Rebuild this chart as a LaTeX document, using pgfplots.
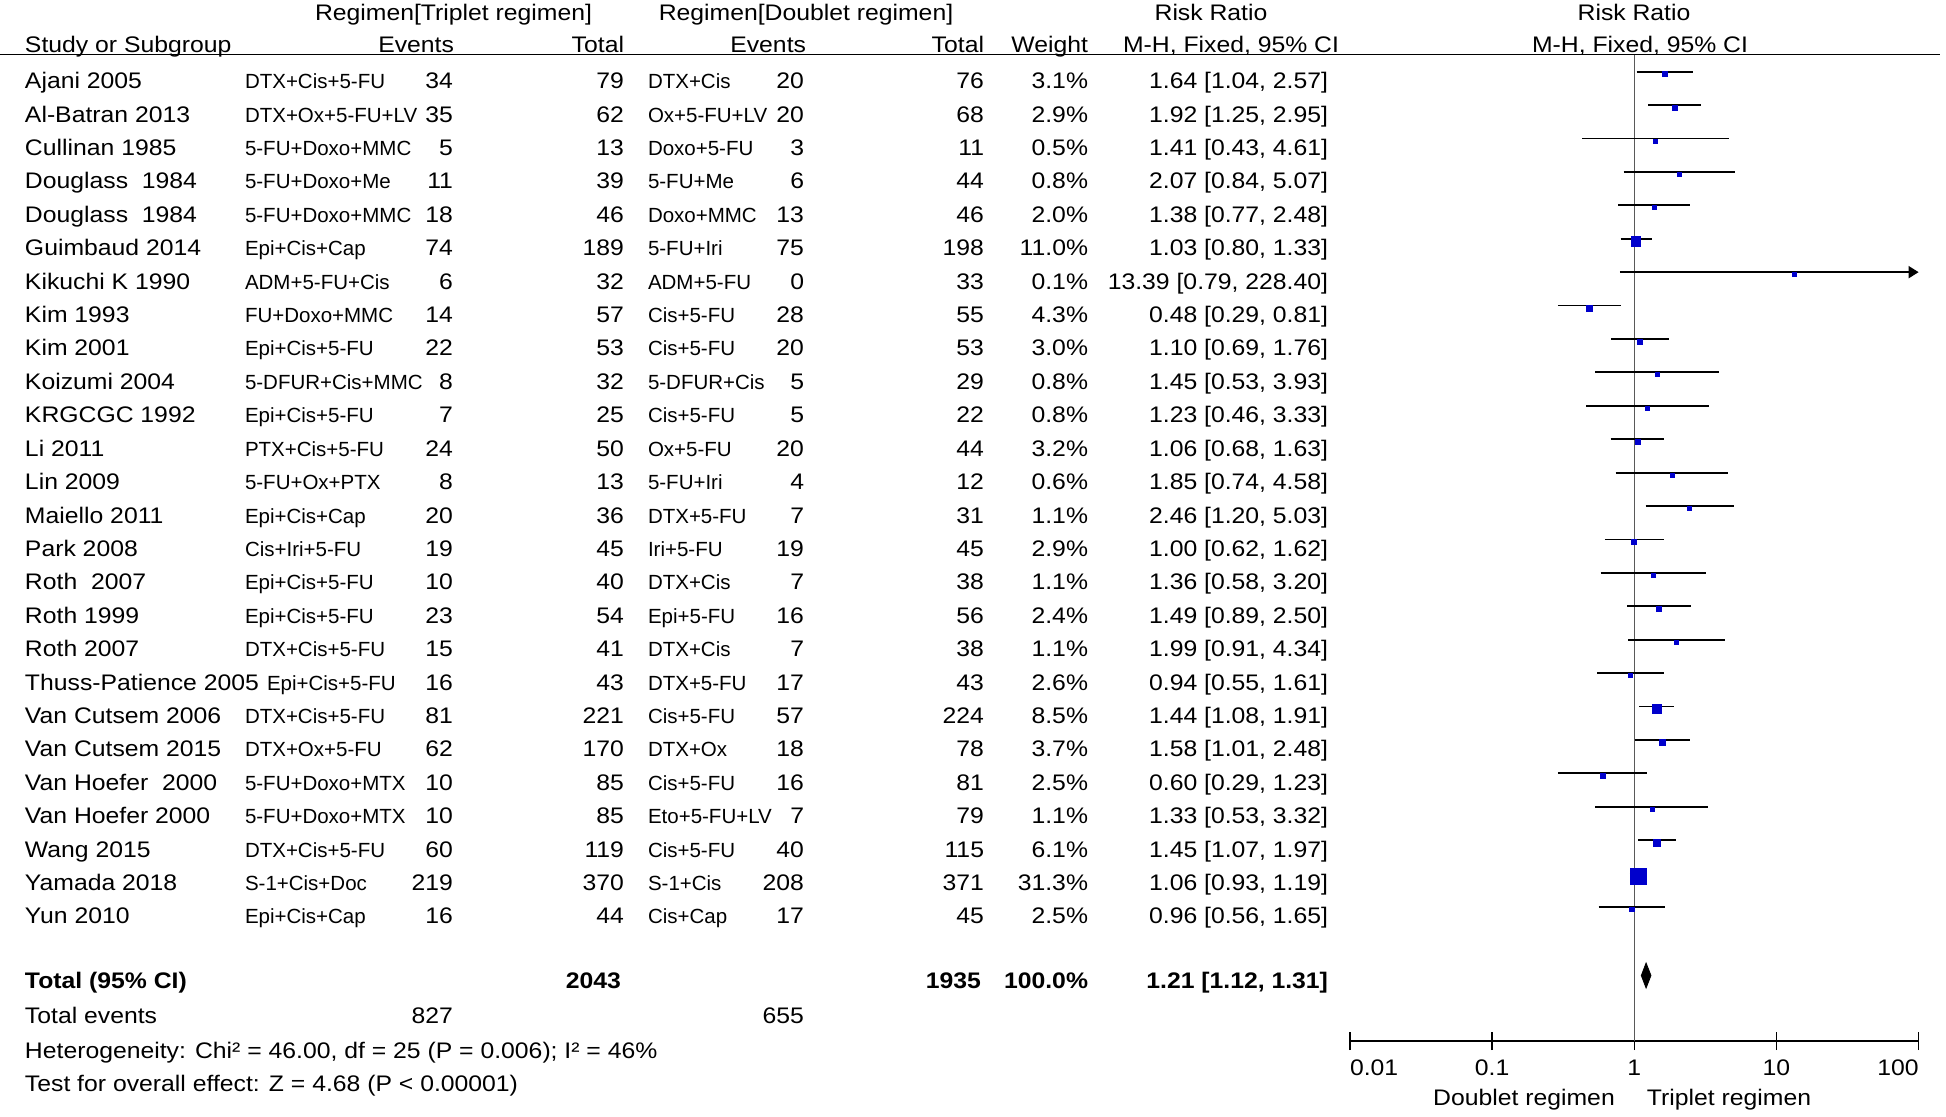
\documentclass[border=0pt]{standalone}
\usepackage{fontspec}
\setmainfont{Liberation Sans}[FakeStretch=1.1]
\newfontfamily\drugfont{Liberation Sans}
\usepackage{pgfplots}
\usepackage{pgfplotstable}
\pgfplotsset{compat=1.18}
\usetikzlibrary{arrows.meta}

\definecolor{mkblue}{rgb}{0,0,0.8}
\definecolor{refgray}{gray}{0.35}

\pgfplotsset{
  ci/.style={black, line width=0.9pt, forget plot},
  ciarr/.style={ci, -{Triangle[length=5pt, width=6pt]}},
}

% risk ratio, 95% CI and weight (%) per study, rows top to bottom
\pgfplotstableread{
i  rr    lo   hi     w
0  1.64  1.04 2.57   3.1
1  1.92  1.25 2.95   2.9
2  1.41  0.43 4.61   0.5
3  2.07  0.84 5.07   0.8
4  1.38  0.77 2.48   2.0
5  1.03  0.80 1.33   11.0
6  13.39 0.79 228.40 0.1
7  0.48  0.29 0.81   4.3
8  1.10  0.69 1.76   3.0
9  1.45  0.53 3.93   0.8
10 1.23  0.46 3.33   0.8
11 1.06  0.68 1.63   3.2
12 1.85  0.74 4.58   0.6
13 2.46  1.20 5.03   1.1
14 1.00  0.62 1.62   2.9
15 1.36  0.58 3.20   1.1
16 1.49  0.89 2.50   2.4
17 1.99  0.91 4.34   1.1
18 0.94  0.55 1.61   2.6
19 1.44  1.08 1.91   8.5
20 1.58  1.01 2.48   3.7
21 0.60  0.29 1.23   2.5
22 1.33  0.53 3.32   1.1
23 1.45  1.07 1.97   6.1
24 1.06  0.93 1.19   31.3
25 0.96  0.56 1.65   2.5
}\forest

\newcounter{row}
% name, drug1, events1, total1, drug2, events2, total2, weight, RR text
\newcommand\studyrow[9]{%
  \pgfmathsetmacro\yb{1027.3-33.41*\the\value{row}}%
  \node[anchor=base west] at (25,\yb) {#1};
  \node[anchor=base west] at (245,\yb) {\drugfont\fontsize{10.25}{12}\selectfont #2};
  \node[anchor=base east] at (453,\yb) {#3};
  \node[anchor=base east] at (624,\yb) {#4};
  \node[anchor=base west] at (648,\yb) {\drugfont\fontsize{10.25}{12}\selectfont #5};
  \node[anchor=base east] at (804,\yb) {#6};
  \node[anchor=base east] at (984,\yb) {#7};
  \node[anchor=base east] at (1088,\yb) {#8};
  \node[anchor=base east] at (1328,\yb) {#9};
  \stepcounter{row}}

\begin{document}
\fontsize{11.25}{13}\selectfont
\begin{tikzpicture}
\path[use as bounding box] (0,0) rectangle (973pt,558pt);

\begin{axis}[
  at={(675pt,37.5pt)}, anchor=south west,
  width=284.3pt, height=520.5pt, scale only axis,
  xmode=log, xmin=0.01, xmax=100, ymin=75, ymax=1116,
  axis x line=bottom, axis y line=none,
  axis line style={-, line width=0.8pt},
  xtick={0.01,0.1,1,10,100},
  xticklabels={\rlap{0.01},0.1,1,10,\llap{100}},
  xminorticks=false,
  tick align=center, major tick length=9pt,
  tick style={black, line width=0.8pt},
  xticklabel style={anchor=base, yshift=-12.8pt},
  clip=false,
]
\addplot[refgray, line width=0.8pt, forget plot] coordinates {(1,75) (1,1061.4)};

\pgfplotstablegetrowsof{\forest}
\pgfmathtruncatemacro\nrows{\pgfplotsretval-1}
\pgfplotsforeachungrouped \k in {0,...,\nrows}{%
  \pgfplotstablegetelem{\k}{lo}\of{\forest}\let\lo\pgfplotsretval
  \pgfplotstablegetelem{\k}{hi}\of{\forest}\let\hi\pgfplotsretval
  \pgfmathsetmacro\yy{1116-(80.7+33.41*\k-9)}
  \pgfmathtruncatemacro\isbig{\hi>100}
  \ifnum\isbig=1 \def\hh{100}\def\cist{ciarr}\else \let\hh\hi\def\cist{ci}\fi
  \edef\temp{\noexpand\addplot[\cist] coordinates {(\lo,\yy) (\hh,\yy)};}
  \temp
}

\addplot[only marks, mark=square*, scatter,
  scatter/use mapped color={draw=mkblue, fill=mkblue},
  visualization depends on={max(1.0,0.715*sqrt(\thisrow{w})) \as \msz},
  scatter/@pre marker code/.append style={/tikz/mark size=\msz}]
  table[x=rr, y expr={1116-(80.7+33.41*\thisrow{i}-6.5)}] {\forest};

% pooled estimate 1.21 [1.12, 1.31]
\addplot[black, fill=black] coordinates {(1.12,140.5) (1.21,153) (1.31,140.5) (1.21,128)} -- cycle;
\end{axis}

\begin{scope}[x=0.5pt, y=0.5pt, every node/.style={inner sep=0pt, outer sep=0pt}]
\draw[line width=0.9pt] (0,1061.4) -- (1940,1061.4);

\node[anchor=base] at (453.5,1095.6) {Regimen[Triplet regimen]};
\node[anchor=base] at (806,1095.6) {Regimen[Doublet regimen]};
\node[anchor=base] at (1211,1095.6) {Risk Ratio};
\node[anchor=base] at (1634,1095.6) {Risk Ratio};

\node[anchor=base west] at (25,1063.3) {Study or Subgroup};
\node[anchor=base east] at (454,1063.3) {Events};
\node[anchor=base east] at (624,1063.3) {Total};
\node[anchor=base east] at (806,1063.3) {Events};
\node[anchor=base east] at (984,1063.3) {Total};
\node[anchor=base east] at (1088,1063.3) {Weight};
\node[anchor=base] at (1231,1063.3) {M-H, Fixed, 95\% CI};
\node[anchor=base] at (1640,1063.3) {M-H, Fixed, 95\% CI};

\setcounter{row}{0}
\studyrow{Ajani 2005}{DTX+Cis+5-FU}{34}{79}{DTX+Cis}{20}{76}{3.1\%}{1.64 [1.04, 2.57]}
\studyrow{Al-Batran 2013}{DTX+Ox+5-FU+LV}{35}{62}{Ox+5-FU+LV}{20}{68}{2.9\%}{1.92 [1.25, 2.95]}
\studyrow{Cullinan 1985}{5-FU+Doxo+MMC}{5}{13}{Doxo+5-FU}{3}{11}{0.5\%}{1.41 [0.43, 4.61]}
\studyrow{Douglass~~1984}{5-FU+Doxo+Me}{11}{39}{5-FU+Me}{6}{44}{0.8\%}{2.07 [0.84, 5.07]}
\studyrow{Douglass~~1984}{5-FU+Doxo+MMC}{18}{46}{Doxo+MMC}{13}{46}{2.0\%}{1.38 [0.77, 2.48]}
\studyrow{Guimbaud 2014}{Epi+Cis+Cap}{74}{189}{5-FU+Iri}{75}{198}{11.0\%}{1.03 [0.80, 1.33]}
\studyrow{Kikuchi K 1990}{ADM+5-FU+Cis}{6}{32}{ADM+5-FU}{0}{33}{0.1\%}{13.39 [0.79, 228.40]}
\studyrow{Kim 1993}{FU+Doxo+MMC}{14}{57}{Cis+5-FU}{28}{55}{4.3\%}{0.48 [0.29, 0.81]}
\studyrow{Kim 2001}{Epi+Cis+5-FU}{22}{53}{Cis+5-FU}{20}{53}{3.0\%}{1.10 [0.69, 1.76]}
\studyrow{Koizumi 2004}{5-DFUR+Cis+MMC}{8}{32}{5-DFUR+Cis}{5}{29}{0.8\%}{1.45 [0.53, 3.93]}
\studyrow{KRGCGC 1992}{Epi+Cis+5-FU}{7}{25}{Cis+5-FU}{5}{22}{0.8\%}{1.23 [0.46, 3.33]}
\studyrow{Li 2011}{PTX+Cis+5-FU}{24}{50}{Ox+5-FU}{20}{44}{3.2\%}{1.06 [0.68, 1.63]}
\studyrow{Lin 2009}{5-FU+Ox+PTX}{8}{13}{5-FU+Iri}{4}{12}{0.6\%}{1.85 [0.74, 4.58]}
\studyrow{Maiello 2011}{Epi+Cis+Cap}{20}{36}{DTX+5-FU}{7}{31}{1.1\%}{2.46 [1.20, 5.03]}
\studyrow{Park 2008}{Cis+Iri+5-FU}{19}{45}{Iri+5-FU}{19}{45}{2.9\%}{1.00 [0.62, 1.62]}
\studyrow{Roth~~2007}{Epi+Cis+5-FU}{10}{40}{DTX+Cis}{7}{38}{1.1\%}{1.36 [0.58, 3.20]}
\studyrow{Roth 1999}{Epi+Cis+5-FU}{23}{54}{Epi+5-FU}{16}{56}{2.4\%}{1.49 [0.89, 2.50]}
\studyrow{Roth 2007}{DTX+Cis+5-FU}{15}{41}{DTX+Cis}{7}{38}{1.1\%}{1.99 [0.91, 4.34]}
\studyrow{Thuss-Patience 2005}{\hspace*{11pt}Epi+Cis+5-FU}{16}{43}{DTX+5-FU}{17}{43}{2.6\%}{0.94 [0.55, 1.61]}
\studyrow{Van Cutsem 2006}{DTX+Cis+5-FU}{81}{221}{Cis+5-FU}{57}{224}{8.5\%}{1.44 [1.08, 1.91]}
\studyrow{Van Cutsem 2015}{DTX+Ox+5-FU}{62}{170}{DTX+Ox}{18}{78}{3.7\%}{1.58 [1.01, 2.48]}
\studyrow{Van Hoefer~~2000}{5-FU+Doxo+MTX}{10}{85}{Cis+5-FU}{16}{81}{2.5\%}{0.60 [0.29, 1.23]}
\studyrow{Van Hoefer 2000}{5-FU+Doxo+MTX}{10}{85}{Eto+5-FU+LV}{7}{79}{1.1\%}{1.33 [0.53, 3.32]}
\studyrow{Wang 2015}{DTX+Cis+5-FU}{60}{119}{Cis+5-FU}{40}{115}{6.1\%}{1.45 [1.07, 1.97]}
\studyrow{Yamada 2018}{S-1+Cis+Doc}{219}{370}{S-1+Cis}{208}{371}{31.3\%}{1.06 [0.93, 1.19]}
\studyrow{Yun 2010}{Epi+Cis+Cap}{16}{44}{Cis+Cap}{17}{45}{2.5\%}{0.96 [0.56, 1.65]}

\node[anchor=base west, font=\bfseries] at (25,127.6) {Total (95\% CI)};
\node[anchor=base east, font=\bfseries] at (621,127.6) {2043};
\node[anchor=base east, font=\bfseries] at (981,127.6) {1935};
\node[anchor=base east, font=\bfseries] at (1088,127.6) {100.0\%};
\node[anchor=base east, font=\bfseries] at (1328,127.6) {1.21 [1.12, 1.31]};

\node[anchor=base west] at (25,93) {Total events};
\node[anchor=base east] at (453,93) {827};
\node[anchor=base east] at (804,93) {655};
\node[anchor=base west] at (25,58) {Heterogeneity: Chi² = 46.00, df = 25 (P = 0.006); I² = 46\%};
\node[anchor=base west] at (25,25) {Test for overall effect: Z = 4.68 (P < 0.00001)};

\node[anchor=base] at (1524,11) {Doublet regimen};
\node[anchor=base] at (1729,11) {Triplet regimen};
\end{scope}
\end{tikzpicture}
\end{document}
